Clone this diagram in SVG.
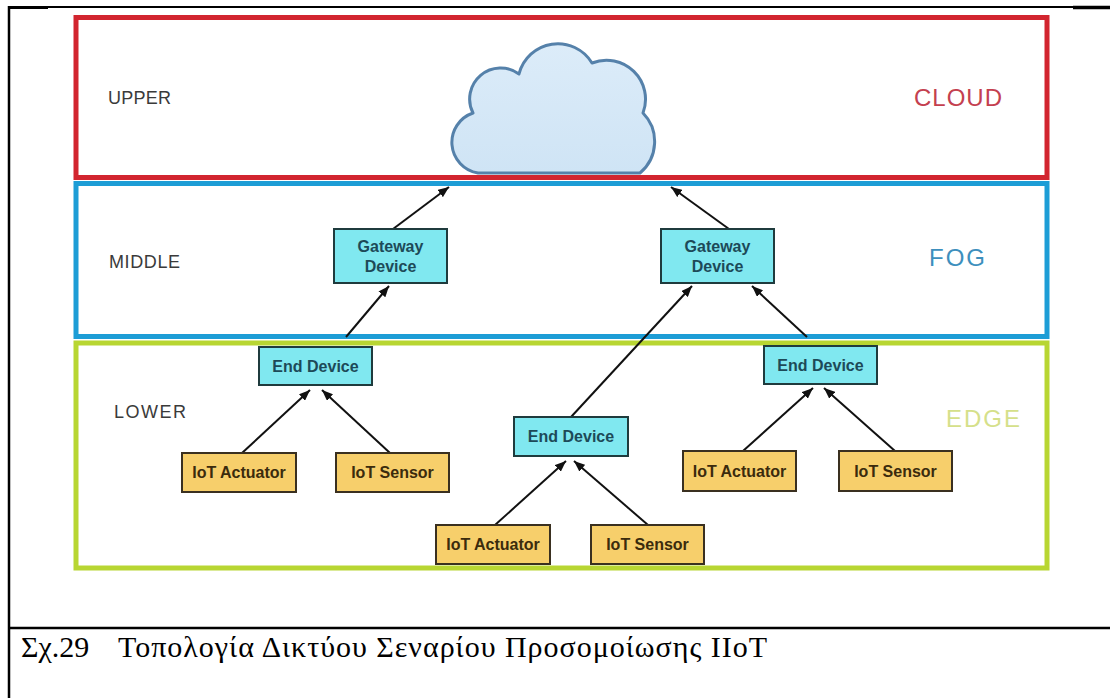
<svg xmlns="http://www.w3.org/2000/svg" width="1110" height="698" viewBox="0 0 1110 698">
<defs>
<style>
.frame{stroke:#000;fill:none}
.layer{fill:none;stroke-width:5}
.lbl{font-family:"Liberation Sans",Arial,sans-serif;font-size:18px;fill:#3a3a3a}
.big{font-family:"Liberation Sans",Arial,sans-serif;font-size:24px}
.cy{fill:#80e8f0;stroke:#1f3b3d;stroke-width:2}
.or{fill:#f7cf6b;stroke:#3a3020;stroke-width:2}
.nt{font-family:"Liberation Sans",Arial,sans-serif;font-size:16px;font-weight:bold;text-anchor:middle}
.ct{fill:#1d4a58}
.ot{fill:#3b2b0d}
.conn{stroke:#111;stroke-width:2;fill:none;marker-end:url(#ah)}
.cap{font-family:"Liberation Serif","Times New Roman",serif;font-size:30px;fill:#000}
</style>
<marker id="ah" markerUnits="userSpaceOnUse" markerWidth="11" markerHeight="9" refX="11" refY="4.5" orient="auto">
<path d="M0,0 L11,4.5 L0,9 Z" fill="#111"/>
</marker>
<linearGradient id="cg" x1="0" y1="0" x2="0" y2="1">
<stop offset="0" stop-color="#dcecf9"/>
<stop offset="1" stop-color="#cfe4f5"/>
</linearGradient>
</defs>
<rect width="1110" height="698" fill="#fff"/>
<g id="frame">
<line class="frame" x1="8" y1="7" x2="1110" y2="7" stroke-width="2"/>
<line class="frame" x1="8" y1="7.5" x2="48" y2="7.5" stroke-width="3"/>
<line class="frame" x1="1073" y1="7.5" x2="1110" y2="7.5" stroke-width="3.5"/>
<line class="frame" x1="9" y1="6" x2="9" y2="698" stroke-width="2.5"/>
<line class="frame" x1="8" y1="628" x2="1110" y2="628" stroke-width="2.5"/>
</g>
<g id="layer-cloud">
<rect class="layer" x="76" y="17.5" width="971" height="160" stroke="#d2252f"/>
<text class="lbl" x="108" y="104" textLength="63">UPPER</text>
<text class="big" x="914" y="106" fill="#c4404f" textLength="88">CLOUD</text>
</g>
<g id="layer-fog">
<rect class="layer" x="76" y="183.5" width="971" height="153" stroke="#1d9dd6"/>
<text class="lbl" x="109" y="268" textLength="71">MIDDLE</text>
<text class="big" x="929" y="266" fill="#3d8fbd" textLength="56">FOG</text>
</g>
<g id="layer-edge">
<rect class="layer" x="76" y="343" width="971" height="225" stroke="#b8d632"/>
<text class="lbl" x="114" y="418" textLength="72">LOWER</text>
<text class="big" x="946" y="427" fill="#d5e08a" textLength="74">EDGE</text>
</g>
<g id="cloud">
<path d="M478,173 A31,31 0 0 1 473,113 A31,31 0 0 1 519,74 A40,40 0 0 1 592,63 A39,39 0 0 1 643,113 A41,41 0 0 1 640,173 Z" fill="url(#cg)" stroke="#5581aa" stroke-width="3" stroke-linejoin="round"/>
</g>
<g id="connectors">
<path class="conn" d="M393,229 L449,187"/>
<path class="conn" d="M729,229 L671,187"/>
<path class="conn" d="M346,337 L389,286"/>
<path class="conn" d="M571,417 L692,286"/>
<path class="conn" d="M807,337 L752,286"/>
<path class="conn" d="M242,453 L310,390"/>
<path class="conn" d="M390,453 L322,390"/>
<path class="conn" d="M495,525 L566,461"/>
<path class="conn" d="M648,525 L574,461"/>
<path class="conn" d="M743,451 L813,388"/>
<path class="conn" d="M895,451 L824,388"/>
</g>
<g id="gateway-1">
<rect class="cy" x="334" y="229" width="113" height="54"/>
<text class="nt ct" x="390.5" y="252">Gateway</text>
<text class="nt ct" x="390.5" y="272">Device</text>
</g>
<g id="gateway-2">
<rect class="cy" x="661" y="229" width="113" height="54"/>
<text class="nt ct" x="717.5" y="252">Gateway</text>
<text class="nt ct" x="717.5" y="272">Device</text>
</g>
<g id="end-device-1">
<rect class="cy" x="259" y="347" width="113" height="38"/>
<text class="nt ct" x="315.5" y="372">End Device</text>
</g>
<g id="end-device-2">
<rect class="cy" x="514" y="417" width="114" height="39"/>
<text class="nt ct" x="571" y="442">End Device</text>
</g>
<g id="end-device-3">
<rect class="cy" x="764" y="346" width="113" height="38"/>
<text class="nt ct" x="820.5" y="371">End Device</text>
</g>
<g id="actuator-1">
<rect class="or" x="182" y="453" width="114" height="39"/>
<text class="nt ot" x="239" y="478">IoT Actuator</text>
</g>
<g id="sensor-1">
<rect class="or" x="336" y="453" width="113" height="39"/>
<text class="nt ot" x="392.5" y="478">IoT Sensor</text>
</g>
<g id="actuator-2">
<rect class="or" x="436" y="525" width="114" height="39"/>
<text class="nt ot" x="493" y="550">IoT Actuator</text>
</g>
<g id="sensor-2">
<rect class="or" x="591" y="525" width="113" height="39"/>
<text class="nt ot" x="647.5" y="550">IoT Sensor</text>
</g>
<g id="actuator-3">
<rect class="or" x="683" y="451" width="113" height="40"/>
<text class="nt ot" x="739.5" y="477">IoT Actuator</text>
</g>
<g id="sensor-3">
<rect class="or" x="839" y="451" width="113" height="40"/>
<text class="nt ot" x="895.5" y="477">IoT Sensor</text>
</g>
<g id="caption">
<text class="cap" x="21" y="657">Σχ.29</text>
<text class="cap" x="118" y="657" textLength="649">Τοπολογία Δικτύου Σεναρίου Προσομοίωσης IIoT</text>
</g>
</svg>
